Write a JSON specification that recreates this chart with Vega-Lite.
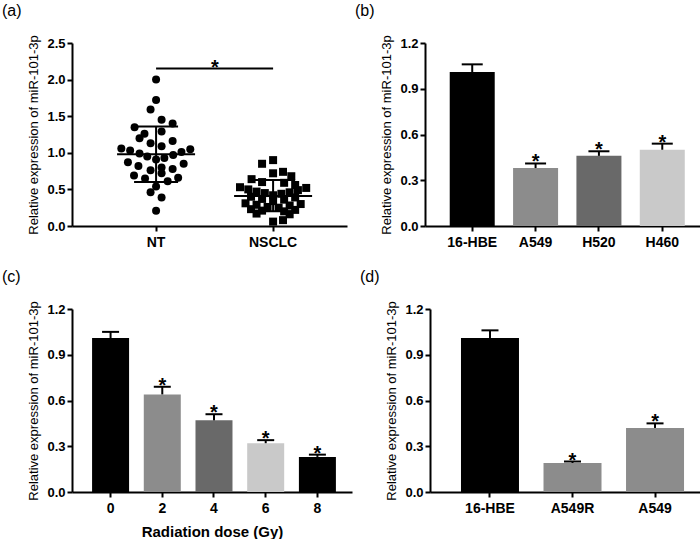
{
  "$schema": "https://vega.github.io/schema/vega-lite/v6.json",
  "padding": {"left": 1, "top": 2, "right": 0, "bottom": 0},
  "background": "white",
  "config": {
    "font": "Liberation Sans",
    "view": {"stroke": null},
    "axis": {
      "grid": false,
      "domain": true,
      "domainColor": "#000000",
      "domainWidth": 2,
      "ticks": true,
      "tickColor": "#000000",
      "tickWidth": 2,
      "tickSize": 5,
      "labelFont": "Liberation Sans",
      "labelFontWeight": "bold",
      "labelColor": "#000000",
      "labelFontSize": 13,
      "labelPadding": 2,
      "titleFont": "Liberation Sans",
      "titleFontWeight": "normal",
      "titleFontSize": 13,
      "titleColor": "#000000",
      "titlePadding": 6
    },
    "axisX": {"labelFontSize": 14, "labelPadding": 4, "labelAngle": 0, "titleFontWeight": "bold", "titleFontSize": 15, "titlePadding": 9},
    "title": {"anchor": "start", "frame": "bounds", "fontSize": 16, "fontWeight": "normal", "color": "#000000", "dx": -26, "offset": 16, "font": "Liberation Sans"}
  },
  "spacing": 19,
  "vconcat": [
    {
      "spacing": 7,
      "hconcat": [
        {
          "title": "(a)",
          "width": 275,
          "height": 183,
          "layer": [
            {
              "data": {"values": [
                {"group": "NT", "value": 2.00, "jitter": 0},
                {"group": "NT", "value": 1.72, "jitter": 0},
                {"group": "NT", "value": 1.59, "jitter": -1.0},
                {"group": "NT", "value": 1.45, "jitter": 1.0},
                {"group": "NT", "value": 1.40, "jitter": 3.0},
                {"group": "NT", "value": 1.35, "jitter": -3.9},
                {"group": "NT", "value": 1.26, "jitter": -2.1},
                {"group": "NT", "value": 1.20, "jitter": -3.0},
                {"group": "NT", "value": 1.29, "jitter": 1.0},
                {"group": "NT", "value": 1.13, "jitter": -1.0},
                {"group": "NT", "value": 1.16, "jitter": 3.0},
                {"group": "NT", "value": 1.09, "jitter": 1.0},
                {"group": "NT", "value": 1.06, "jitter": -6.3},
                {"group": "NT", "value": 1.03, "jitter": -4.7},
                {"group": "NT", "value": 1.05, "jitter": 6.2},
                {"group": "NT", "value": 1.01, "jitter": 4.6},
                {"group": "NT", "value": 0.99, "jitter": -3.0},
                {"group": "NT", "value": 0.95, "jitter": -1.6},
                {"group": "NT", "value": 0.91, "jitter": 0},
                {"group": "NT", "value": 0.93, "jitter": 1.5},
                {"group": "NT", "value": 0.97, "jitter": 3.1},
                {"group": "NT", "value": 0.87, "jitter": -5.1},
                {"group": "NT", "value": 0.82, "jitter": -3.2},
                {"group": "NT", "value": 0.76, "jitter": -1.0},
                {"group": "NT", "value": 0.80, "jitter": 1.0},
                {"group": "NT", "value": 0.78, "jitter": 3.0},
                {"group": "NT", "value": 0.85, "jitter": 5.0},
                {"group": "NT", "value": 0.69, "jitter": -4.0},
                {"group": "NT", "value": 0.65, "jitter": -2.0},
                {"group": "NT", "value": 0.72, "jitter": 1.0},
                {"group": "NT", "value": 0.61, "jitter": 2.1},
                {"group": "NT", "value": 0.66, "jitter": 4.0},
                {"group": "NT", "value": 0.54, "jitter": 0},
                {"group": "NT", "value": 0.46, "jitter": -1.0},
                {"group": "NT", "value": 0.39, "jitter": 1.0},
                {"group": "NT", "value": 0.21, "jitter": 0},
                {"group": "NSCLC", "value": 0.90, "jitter": 0},
                {"group": "NSCLC", "value": 0.85, "jitter": -2},
                {"group": "NSCLC", "value": 0.74, "jitter": 1.8},
                {"group": "NSCLC", "value": 0.72, "jitter": 0},
                {"group": "NSCLC", "value": 0.68, "jitter": 3.3},
                {"group": "NSCLC", "value": 0.64, "jitter": -3.9},
                {"group": "NSCLC", "value": 0.60, "jitter": -2},
                {"group": "NSCLC", "value": 0.59, "jitter": 2},
                {"group": "NSCLC", "value": 0.56, "jitter": 4},
                {"group": "NSCLC", "value": 0.53, "jitter": -6},
                {"group": "NSCLC", "value": 0.52, "jitter": 6},
                {"group": "NSCLC", "value": 0.50, "jitter": -4.5},
                {"group": "NSCLC", "value": 0.49, "jitter": 4.5},
                {"group": "NSCLC", "value": 0.47, "jitter": -3},
                {"group": "NSCLC", "value": 0.46, "jitter": 3},
                {"group": "NSCLC", "value": 0.45, "jitter": -1.5},
                {"group": "NSCLC", "value": 0.44, "jitter": 1.5},
                {"group": "NSCLC", "value": 0.42, "jitter": 0},
                {"group": "NSCLC", "value": 0.40, "jitter": -4},
                {"group": "NSCLC", "value": 0.39, "jitter": 4},
                {"group": "NSCLC", "value": 0.37, "jitter": -2},
                {"group": "NSCLC", "value": 0.36, "jitter": 2},
                {"group": "NSCLC", "value": 0.34, "jitter": 0},
                {"group": "NSCLC", "value": 0.31, "jitter": -5},
                {"group": "NSCLC", "value": 0.30, "jitter": 5},
                {"group": "NSCLC", "value": 0.29, "jitter": -3},
                {"group": "NSCLC", "value": 0.28, "jitter": 3},
                {"group": "NSCLC", "value": 0.26, "jitter": -1},
                {"group": "NSCLC", "value": 0.25, "jitter": 1},
                {"group": "NSCLC", "value": 0.23, "jitter": -4},
                {"group": "NSCLC", "value": 0.22, "jitter": 4},
                {"group": "NSCLC", "value": 0.21, "jitter": -2},
                {"group": "NSCLC", "value": 0.20, "jitter": 2},
                {"group": "NSCLC", "value": 0.17, "jitter": -3},
                {"group": "NSCLC", "value": 0.16, "jitter": 3},
                {"group": "NSCLC", "value": 0.08, "jitter": 1.8},
                {"group": "NSCLC", "value": 0.06, "jitter": 0}
              ]},
              "mark": {"type": "point", "filled": true, "opacity": 1, "size": 64, "color": "#000000"},
              "encoding": {
                "x": {"field": "group", "type": "nominal", "scale": {"type": "band", "domain": ["NT", "NSCLC"], "paddingInner": 0.34, "paddingOuter": 0.345, "align": 0.563}, "axis": {"title": null}},
                "xOffset": {"field": "jitter", "type": "quantitative", "scale": {"domain": [-7, 7]}},
                "y": {"field": "value", "type": "quantitative", "scale": {"domain": [0, 2.5], "nice": false}, "axis": {"values": [0, 0.5, 1, 1.5, 2, 2.5], "format": ".1f", "labelOverlap": false, "title": "Relative expression of miR-101-3p"}},
                "shape": {"field": "group", "type": "nominal", "scale": {"domain": ["NT", "NSCLC"], "range": ["circle", "square"]}, "legend": null}
              }
            },
            {
              "data": {"values": [
                {"group": "NT", "mean": 0.98, "lo": 0.60, "hi": 1.36},
                {"group": "NSCLC", "mean": 0.41, "lo": 0.20, "hi": 0.63}
              ]},
              "layer": [
                {"mark": {"type": "rule", "color": "#000000", "strokeWidth": 2}, "encoding": {"x": {"field": "group", "type": "nominal"}, "y": {"field": "lo", "type": "quantitative", "axis": {"values": [0, 0.5, 1, 1.5, 2, 2.5], "format": ".1f", "labelOverlap": false, "title": "Relative expression of miR-101-3p"}}, "y2": {"field": "hi"}}},
                {"mark": {"type": "tick", "color": "#000000", "thickness": 2, "size": 78, "opacity": 1}, "encoding": {"x": {"field": "group", "type": "nominal"}, "y": {"field": "mean", "type": "quantitative", "axis": {"values": [0, 0.5, 1, 1.5, 2, 2.5], "format": ".1f", "labelOverlap": false, "title": "Relative expression of miR-101-3p"}}}},
                {"mark": {"type": "tick", "color": "#000000", "thickness": 2, "size": 44, "opacity": 1}, "encoding": {"x": {"field": "group", "type": "nominal"}, "y": {"field": "lo", "type": "quantitative", "axis": {"values": [0, 0.5, 1, 1.5, 2, 2.5], "format": ".1f", "labelOverlap": false, "title": "Relative expression of miR-101-3p"}}}},
                {"mark": {"type": "tick", "color": "#000000", "thickness": 2, "size": 44, "opacity": 1}, "encoding": {"x": {"field": "group", "type": "nominal"}, "y": {"field": "hi", "type": "quantitative", "axis": {"values": [0, 0.5, 1, 1.5, 2, 2.5], "format": ".1f", "labelOverlap": false, "title": "Relative expression of miR-101-3p"}}}}
              ]
            },
            {
              "data": {"values": [{"from": "NT", "to": "NSCLC", "y": 2.15, "label": "*"}]},
              "layer": [
                {"mark": {"type": "rule", "color": "#000000", "strokeWidth": 2}, "encoding": {"x": {"field": "from", "type": "nominal"}, "x2": {"field": "to"}, "y": {"field": "y", "type": "quantitative", "axis": {"values": [0, 0.5, 1, 1.5, 2, 2.5], "format": ".1f", "labelOverlap": false, "title": "Relative expression of miR-101-3p"}}}},
                {"mark": {"type": "text", "fontSize": 20, "fontWeight": "bold", "baseline": "alphabetic", "dy": 5, "color": "#000000"}, "encoding": {"x": {"field": "from", "type": "nominal", "bandPosition": 1.26}, "y": {"field": "y", "type": "quantitative", "axis": {"values": [0, 0.5, 1, 1.5, 2, 2.5], "format": ".1f", "labelOverlap": false, "title": "Relative expression of miR-101-3p"}}, "text": {"field": "label"}}}
              ]
            }
          ]
        },
        {
          "title": "(b)",
          "width": 280,
          "height": 183,
          "data": {"values": [
            {"cell": "16-HBE", "value": 1.01, "upper": 1.06, "sig": ""},
            {"cell": "A549", "value": 0.38, "upper": 0.41, "sig": "*"},
            {"cell": "H520", "value": 0.46, "upper": 0.49, "sig": "*"},
            {"cell": "H460", "value": 0.50, "upper": 0.54, "sig": "*"}
          ]},
          "encoding": {
            "x": {"field": "cell", "type": "nominal", "scale": {"type": "band", "domain": ["16-HBE", "A549", "H520", "H460"], "paddingInner": 0.29, "paddingOuter": 0.355, "align": 0.55}, "axis": {"title": null}}
          },
          "layer": [
            {"mark": {"type": "bar", "size": 45}, "encoding": {
              "y": {"field": "value", "type": "quantitative", "scale": {"domain": [0, 1.2], "nice": false}, "axis": {"values": [0, 0.3, 0.6, 0.9, 1.2], "format": ".1f", "title": "Relative expression of miR-101-3p"}},
              "color": {"field": "cell", "type": "nominal", "scale": {"domain": ["16-HBE", "A549", "H520", "H460"], "range": ["#000000", "#8c8c8c", "#696969", "#c9c9c9"]}, "legend": null}
            }},
            {"mark": {"type": "rule", "color": "#000000", "strokeWidth": 2}, "encoding": {"y": {"field": "value", "type": "quantitative"}, "y2": {"field": "upper"}}},
            {"mark": {"type": "tick", "color": "#000000", "thickness": 2, "size": 21, "opacity": 1}, "encoding": {"y": {"field": "upper", "type": "quantitative"}}},
            {"mark": {"type": "text", "fontSize": 20, "fontWeight": "bold", "baseline": "alphabetic", "dy": 5, "color": "#000000"}, "encoding": {"y": {"field": "upper", "type": "quantitative"}, "text": {"field": "sig"}}}
          ]
        }
      ]
    },
    {
      "spacing": 7,
      "hconcat": [
        {
          "title": "(c)",
          "width": 280,
          "height": 183,
          "data": {"values": [
            {"dose": "0", "value": 1.01, "upper": 1.05, "sig": ""},
            {"dose": "2", "value": 0.64, "upper": 0.69, "sig": "*"},
            {"dose": "4", "value": 0.47, "upper": 0.51, "sig": "*"},
            {"dose": "6", "value": 0.32, "upper": 0.34, "sig": "*"},
            {"dose": "8", "value": 0.23, "upper": 0.245, "sig": "*"}
          ]},
          "encoding": {
            "x": {"field": "dose", "type": "nominal", "scale": {"type": "band", "domain": ["0", "2", "4", "6", "8"], "paddingInner": 0.285, "paddingOuter": 0.35, "align": 0.555}, "axis": {"title": "Radiation dose (Gy)"}}
          },
          "layer": [
            {"mark": {"type": "bar", "size": 37}, "encoding": {
              "y": {"field": "value", "type": "quantitative", "scale": {"domain": [0, 1.2], "nice": false}, "axis": {"values": [0, 0.3, 0.6, 0.9, 1.2], "format": ".1f", "title": "Relative expression of miR-101-3p"}},
              "color": {"field": "dose", "type": "nominal", "scale": {"domain": ["0", "2", "4", "6", "8"], "range": ["#000000", "#8c8c8c", "#696969", "#c9c9c9", "#474747"]}, "legend": null}
            }},
            {"mark": {"type": "rule", "color": "#000000", "strokeWidth": 2}, "encoding": {"y": {"field": "value", "type": "quantitative"}, "y2": {"field": "upper"}}},
            {"mark": {"type": "tick", "color": "#000000", "thickness": 2, "size": 17, "opacity": 1}, "encoding": {"y": {"field": "upper", "type": "quantitative"}}},
            {"mark": {"type": "text", "fontSize": 20, "fontWeight": "bold", "baseline": "alphabetic", "dy": 5, "color": "#000000"}, "encoding": {"y": {"field": "upper", "type": "quantitative"}, "text": {"field": "sig"}}}
          ]
        },
        {
          "title": "(d)",
          "width": 280,
          "height": 183,
          "data": {"values": [
            {"cell": "16-HBE", "value": 1.01, "upper": 1.06, "sig": ""},
            {"cell": "A549R", "value": 0.19, "upper": 0.20, "sig": "*"},
            {"cell": "A549", "value": 0.42, "upper": 0.45, "sig": "*"}
          ]},
          "encoding": {
            "x": {"field": "cell", "type": "nominal", "scale": {"type": "band", "domain": ["16-HBE", "A549R", "A549"], "paddingInner": 0.297, "paddingOuter": 0.345, "align": 0.544}, "axis": {"title": null}}
          },
          "layer": [
            {"mark": {"type": "bar", "size": 58}, "encoding": {
              "y": {"field": "value", "type": "quantitative", "scale": {"domain": [0, 1.2], "nice": false}, "axis": {"values": [0, 0.3, 0.6, 0.9, 1.2], "format": ".1f", "title": "Relative expression of miR-101-3p"}},
              "color": {"field": "cell", "type": "nominal", "scale": {"domain": ["16-HBE", "A549R", "A549"], "range": ["#000000", "#8c8c8c", "#696969"]}, "legend": null}
            }},
            {"mark": {"type": "rule", "color": "#000000", "strokeWidth": 2}, "encoding": {"y": {"field": "value", "type": "quantitative"}, "y2": {"field": "upper"}}},
            {"mark": {"type": "tick", "color": "#000000", "thickness": 2, "size": 17, "opacity": 1}, "encoding": {"y": {"field": "upper", "type": "quantitative"}}},
            {"mark": {"type": "text", "fontSize": 20, "fontWeight": "bold", "baseline": "alphabetic", "dy": 5, "color": "#000000"}, "encoding": {"y": {"field": "upper", "type": "quantitative"}, "text": {"field": "sig"}}}
          ]
        }
      ]
    }
  ]
}
